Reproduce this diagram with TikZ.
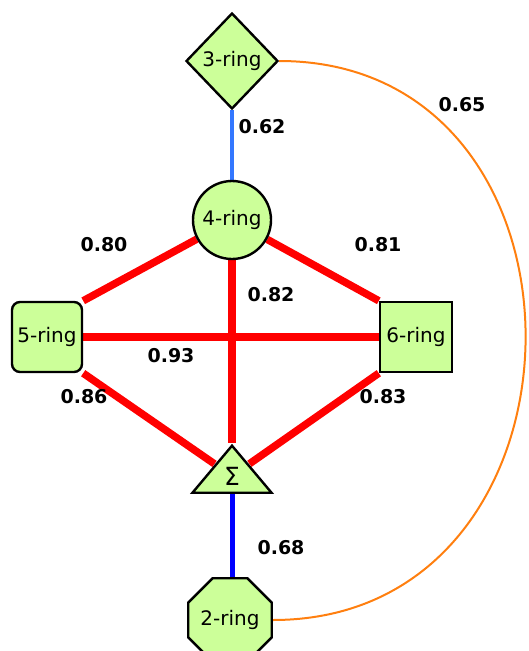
\documentclass[tikz,border=0pt]{standalone}
\usepackage{fontspec}
\setmainfont{DejaVu Sans}
\usetikzlibrary{shapes.geometric,backgrounds}
\definecolor{ringgreen}{HTML}{CCFF99}
\definecolor{bondred}{HTML}{FF0000}
\definecolor{linkblue}{HTML}{3377FF}
\definecolor{sumblue}{HTML}{0000FF}
\definecolor{loopline}{HTML}{FF7F0F}
\tikzset{
  ring/.style={draw=black, fill=ringgreen, line width=2.4pt, inner sep=0pt, align=center, font=\fontsize{20}{24}\selectfont},
  weight/.style={font=\fontsize{19}{22}\selectfont\bfseries},
  bond/.style={draw=bondred, line width=7.5pt},
  link/.style={draw=linkblue, line width=4pt},
  sumlink/.style={draw=sumblue, line width=5pt},
  loop/.style={draw=loopline, line width=2pt},
}
\begin{document}
\begin{tikzpicture}[x=1pt, y=-1pt]
\useasboundingbox (0,0) rectangle (528,651);
% ring nodes
\node[ring, diamond, aspect=1, minimum width=92, minimum height=96] (r3) at (232,61) {3-ring};
\node[ring, circle, minimum size=78] (r4) at (232,220) {4-ring};
\node[ring, rectangle, rounded corners=8pt, minimum width=70, minimum height=70] (r5) at (47,337) {5-ring};
\node[ring, rectangle, minimum width=72, minimum height=70] (r6) at (416,337) {6-ring};
\node[ring, isosceles triangle, isosceles triangle stretches, shape border rotate=90, minimum width=79, minimum height=47, font=\fontsize{25}{28}\selectfont] (sig) at (232,476) {Σ};
\node[ring, regular polygon, regular polygon sides=8, minimum size=78] (r2) at (230,620) {2-ring};
% connectors
\begin{scope}[on background layer]
\draw[link] (r3) -- (r4);
\draw[bond] (r5.north east) -- (r4);
\draw[bond] (r4) -- (r6.north west);
\draw[bond] (r4) -- (sig);
\draw[bond] (r5) -- (r6);
\draw[bond] (r5.south east) -- (sig);
\draw[bond] (r6.south west) -- (sig);
\draw[sumlink] (sig.south) -- (sig.south |- r2.north);
\draw[loop] (r3.east) to[out=0, in=0, looseness=1.52] (r2.east);
\end{scope}
% weights
\node[weight] (w62) at (262,127) {0.62};
\node[weight] (w65) at (462,105) {0.65};
\node[weight] (w80) at (104,245) {0.80};
\node[weight] (w81) at (378,245) {0.81};
\node[weight] (w82) at (271,295) {0.82};
\node[weight] (w93) at (171,356) {0.93};
\node[weight] (w86) at (84,397) {0.86};
\node[weight] (w83) at (383,397) {0.83};
\node[weight] (w68) at (281,548) {0.68};
\end{tikzpicture}
\end{document}
